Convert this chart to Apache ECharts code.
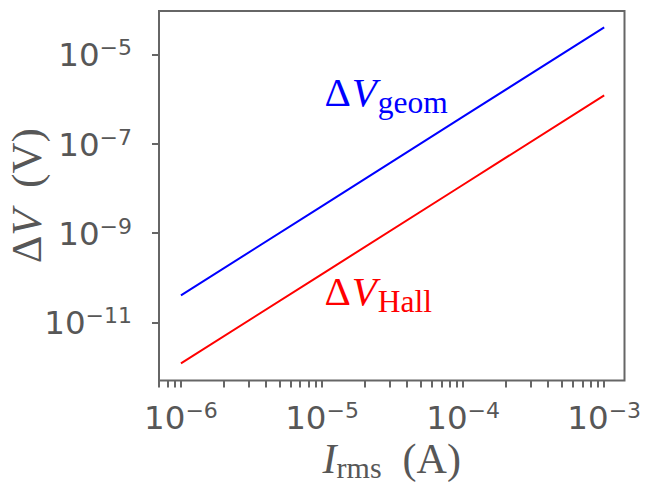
<!DOCTYPE html>
<html>
<head>
<meta charset="utf-8">
<title>ΔV vs I_rms</title>
<script src="https://cdn.jsdelivr.net/npm/echarts@6/dist/echarts.min.js"></script>
<style>
  html, body { margin: 0; padding: 0; background: #ffffff; }
  #chart { width: 650px; height: 484px; }
</style>
</head>
<body>
<div id="chart"></div>
<script>
// rms current through the sample (A)
const current = [1e-6, 1e-5, 1e-4, 1e-3];
// voltage from geometric misalignment of the contacts (V)
const vGeom = [4e-11, 4e-9, 4e-7, 4e-5];
// Hall voltage (V)
const vHall = [1.2e-12, 1.2e-10, 1.2e-8, 1.2e-6];

// tick positions
const xMajorTicks = [1e-6, 1e-5, 1e-4, 1e-3];
const xMinorTicks = [
  7e-7, 8e-7, 9e-7,
  2e-6, 3e-6, 4e-6, 5e-6, 6e-6, 7e-6, 8e-6, 9e-6,
  2e-5, 3e-5, 4e-5, 5e-5, 6e-5, 7e-5, 8e-5, 9e-5,
  2e-4, 3e-4, 4e-4, 5e-4, 6e-4, 7e-4, 8e-4, 9e-4
];
const yMajorTicks = [1e-11, 1e-9, 1e-7, 1e-5];

// in-plot curve labels (anchored at bottom-left, data coords)
const curveLabels = ['geom', 'Hall'];
const curveLabelX = [1.04e-5, 1.04e-5];
const curveLabelY = [3.7e-7, 1.28e-11];
const curveColors = ['#0000ff', '#ff0000'];

const lineColor = '#666666';
const textColor = '#575757';
const serif = 'Liberation Serif';

function powerLabel(v) {
  const exp = Math.round(Math.log10(v));
  return '{b|10}{s|' + (exp < 0 ? '\u2212' + (-exp) : String(exp)) + '}';
}

const tickRich = {
  b: { fontFamily: 'DejaVu Sans', fontSize: 32.5, color: textColor, verticalAlign: 'bottom' },
  s: { fontFamily: 'DejaVu Sans', fontSize: 22, color: textColor, verticalAlign: 'bottom', padding: [0, 0, 13, 0] }
};

const chart = echarts.init(document.getElementById('chart'), null, { renderer: 'svg' });

const option = {
  animation: false,
  backgroundColor: '#ffffff',
  grid: {
    left: 159,
    top: 11,
    right: 25.5,
    bottom: 103.5,
    containLabel: false,
    outerBoundsMode: 'none',
    show: true,
    borderColor: lineColor,
    borderWidth: 2,
    backgroundColor: 'transparent'
  },
  xAxis: {
    type: 'log',
    logBase: 10,
    min: 6.99e-7,
    max: 1.393e-3,
    name: '{i|I}{r|rms}{n|\u00a0\u00a0(A)}',
    nameLocation: 'middle',
    nameGap: 57,
    nameMoveOverlap: false,
    nameTextStyle: {
      rich: {
        i: { fontFamily: serif, fontStyle: 'italic', fontSize: 42, color: textColor, verticalAlign: 'bottom', padding: [0, 0, 3, 0] },
        r: { fontFamily: serif, fontSize: 30, color: textColor, verticalAlign: 'bottom' },
        n: { fontFamily: serif, fontSize: 42, color: textColor, verticalAlign: 'bottom', padding: [0, 0, 3, 0] }
      }
    },
    axisLine: { show: false },
    splitLine: { show: false },
    axisTick: {
      show: true,
      length: 7,
      customValues: xMajorTicks.concat(xMinorTicks),
      lineStyle: { color: lineColor, width: 2 }
    },
    axisLabel: {
      customValues: xMajorTicks,
      margin: 19,
      formatter: powerLabel,
      rich: tickRich
    }
  },
  yAxis: {
    type: 'log',
    logBase: 10,
    min: 4.98e-13,
    max: 9.3e-5,
    name: '{d|\u0394}{v|V}{n|\u00a0\u00a0(V)}',
    nameLocation: 'middle',
    nameRotate: 90,
    nameGap: 111,
    nameMoveOverlap: false,
    nameTextStyle: {
      rich: {
        d: { fontFamily: serif, fontSize: 43, color: textColor },
        v: { fontFamily: serif, fontStyle: 'italic', fontSize: 43, color: textColor },
        n: { fontFamily: serif, fontSize: 43, color: textColor }
      }
    },
    axisLine: { show: false },
    splitLine: { show: false },
    axisTick: {
      show: true,
      length: 7,
      customValues: yMajorTicks,
      lineStyle: { color: lineColor, width: 2 }
    },
    axisLabel: {
      customValues: yMajorTicks,
      margin: 27,
      formatter: powerLabel,
      rich: tickRich
    }
  },
  series: [
    {
      name: 'geom',
      type: 'line',
      data: current.map((x, i) => [x, vGeom[i]]),
      showSymbol: false,
      lineStyle: { color: curveColors[0], width: 2 },
      z: 3
    },
    {
      name: 'Hall',
      type: 'line',
      data: current.map((x, i) => [x, vHall[i]]),
      showSymbol: false,
      lineStyle: { color: curveColors[1], width: 2 },
      z: 3
    },
    {
      name: 'labels',
      type: 'custom',
      coordinateSystem: 'cartesian2d',
      data: curveLabels.map((t, i) => [curveLabelX[i], curveLabelY[i], i]),
      renderItem: function (params, api) {
        const idx = api.value(2);
        const p = api.coord([api.value(0), api.value(1)]);
        const col = curveColors[idx];
        return {
          type: 'text',
          x: p[0],
          y: p[1],
          style: {
            text: '{d|\u0394}{v|V}{s|' + curveLabels[idx] + '}',
            align: 'left',
            verticalAlign: 'bottom',
            rich: {
              d: { fontFamily: serif, fontSize: 41, fill: col, verticalAlign: 'bottom', padding: [0, 1, 6, 0] },
              v: { fontFamily: serif, fontStyle: 'italic', fontSize: 41, fill: col, verticalAlign: 'bottom', padding: [0, 1, 6, 0] },
              s: { fontFamily: serif, fontSize: 31.5, fill: col, verticalAlign: 'bottom' }
            }
          }
        };
      },
      z: 4
    }
  ]
};

chart.setOption(option);
</script>
</body>
</html>
